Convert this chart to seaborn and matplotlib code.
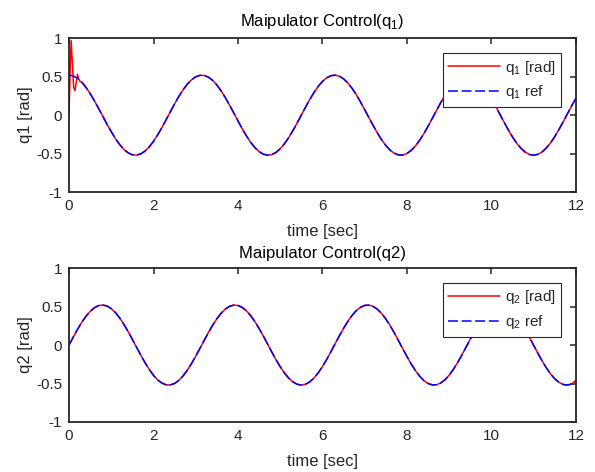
import numpy as np
import pandas as pd
import matplotlib
matplotlib.use("Agg")
from matplotlib import pyplot as plt
import seaborn as sns

# sample times [sec], every 0.1 s
time = [0.0, 0.1, 0.2, 0.3, 0.4, 0.5, 0.6, 0.7, 0.8, 0.9,
        1.0, 1.1, 1.2, 1.3, 1.4, 1.5, 1.6, 1.7, 1.8, 1.9,
        2.0, 2.1, 2.2, 2.3, 2.4, 2.5, 2.6, 2.7, 2.8, 2.9,
        3.0, 3.1, 3.2, 3.3, 3.4, 3.5, 3.6, 3.7, 3.8, 3.9,
        4.0, 4.1, 4.2, 4.3, 4.4, 4.5, 4.6, 4.7, 4.8, 4.9,
        5.0, 5.1, 5.2, 5.3, 5.4, 5.5, 5.6, 5.7, 5.8, 5.9,
        6.0, 6.1, 6.2, 6.3, 6.4, 6.5, 6.6, 6.7, 6.8, 6.9,
        7.0, 7.1, 7.2, 7.3, 7.4, 7.5, 7.6, 7.7, 7.8, 7.9,
        8.0, 8.1, 8.2, 8.3, 8.4, 8.5, 8.6, 8.7, 8.8, 8.9,
        9.0, 9.1, 9.2, 9.3, 9.4, 9.5, 9.6, 9.7, 9.8, 9.9,
        10.0, 10.1, 10.2, 10.3, 10.4, 10.5, 10.6, 10.7, 10.8, 10.9,
        11.0, 11.1, 11.2, 11.3, 11.4, 11.5, 11.6, 11.7, 11.8, 11.9,
        12.0]

# joint 1 reference [rad]
q1_ref = [0.520, 0.510, 0.479, 0.429, 0.362, 0.281, 0.188, 0.088, -0.015, -0.118,
          -0.216, -0.306, -0.383, -0.445, -0.490, -0.515, -0.519, -0.503, -0.466, -0.411,
          -0.340, -0.255, -0.160, -0.058, 0.046, 0.148, 0.244, 0.330, 0.403, 0.460,
          0.499, 0.518, 0.516, 0.494, 0.452, 0.392, 0.316, 0.228, 0.131, 0.028,
          -0.076, -0.177, -0.270, -0.353, -0.422, -0.474, -0.507, -0.520, -0.512, -0.484,
          -0.436, -0.371, -0.292, -0.201, -0.101, 0.002, 0.106, 0.205, 0.296, 0.375,
          0.439, 0.486, 0.513, 0.520, 0.506, 0.472, 0.419, 0.349, 0.266, 0.172,
          0.071, -0.033, -0.135, -0.232, -0.320, -0.395, -0.454, -0.495, -0.517, -0.518,
          -0.498, -0.458, -0.400, -0.326, -0.240, -0.143, -0.041, 0.063, 0.164, 0.259,
          0.343, 0.414, 0.468, 0.504, 0.519, 0.514, 0.488, 0.443, 0.380, 0.302,
          0.212, 0.113, 0.011, -0.093, -0.193, -0.285, -0.366, -0.432, -0.481, -0.511,
          -0.520, -0.509, -0.477, -0.426, -0.359, -0.277, -0.184, -0.084, 0.020, 0.123,
          0.221]
# the reference signal starts from zero at t = 0
q1_ref_start_t = [0.0]
q1_ref_start_v = [0.0]

# joint 1 response: start-up transient, then it tracks the reference (from t = 0.4)
q1_start_t = [0.0, 0.02, 0.05, 0.08, 0.11, 0.14, 0.17, 0.20, 0.23, 0.26, 0.30, 0.35]
q1_start_v = [0.0, 0.45, 0.97, 0.66, 0.36, 0.32, 0.42, 0.53, 0.47, 0.44, 0.43, 0.40]

# joint 2 reference [rad]
q2_ref = [0.000, 0.103, 0.203, 0.294, 0.373, 0.437, 0.485, 0.513, 0.520, 0.507,
          0.473, 0.421, 0.351, 0.268, 0.174, 0.073, -0.030, -0.133, -0.230, -0.318,
          -0.394, -0.454, -0.495, -0.517, -0.518, -0.499, -0.459, -0.401, -0.328, -0.241,
          -0.145, -0.043, 0.061, 0.162, 0.257, 0.342, 0.413, 0.468, 0.503, 0.519,
          0.514, 0.489, 0.444, 0.382, 0.304, 0.214, 0.116, 0.013, -0.091, -0.191,
          -0.283, -0.364, -0.430, -0.479, -0.510, -0.520, -0.509, -0.478, -0.428, -0.361,
          -0.279, -0.186, -0.086, 0.018, 0.120, 0.218, 0.308, 0.385, 0.447, 0.491,
          0.515, 0.519, 0.502, 0.465, 0.410, 0.338, 0.253, 0.158, 0.056, -0.048,
          -0.150, -0.246, -0.332, -0.405, -0.462, -0.500, -0.518, -0.516, -0.493, -0.451,
          -0.391, -0.315, -0.226, -0.129, -0.026, 0.078, 0.179, 0.272, 0.355, 0.423,
          0.475, 0.508, 0.520, 0.512, 0.483, 0.435, 0.370, 0.290, 0.198, 0.099,
          -0.005, -0.108, -0.207, -0.298, -0.376, -0.440, -0.486, -0.513, -0.520, -0.506,
          -0.471]
# joint 2 response (tracks the reference, small deviation at the very end)
q2_act = q2_ref[:-1] + [-0.460]

RED, BLUE, AXC = "#ff0000", "#0000ff", "#262626"

sns.set_theme(style="white")
plt.rcParams["font.family"] = ["Liberation Sans", "DejaVu Sans"]
plt.rcParams["mathtext.fontset"] = "custom"
plt.rcParams["mathtext.rm"] = "Liberation Sans"

fig = plt.figure(figsize=(5.95, 4.72), dpi=100)
ax1 = fig.add_axes([0.116, 0.593, 0.852, 0.326])
ax2 = fig.add_axes([0.116, 0.106, 0.852, 0.326])

# top panel
t1_act = q1_start_t + time[4:]
v1_act = q1_start_v + q1_ref[4:]
t1_ref = q1_ref_start_t + time
v1_ref = q1_ref_start_v + q1_ref
sns.lineplot(x=t1_act, y=v1_act, ax=ax1, color=RED, lw=1.1, sort=False,
             estimator=None, label=r"q$_\mathregular{1}$ [rad]")
sns.lineplot(x=t1_ref, y=v1_ref, ax=ax1, color=BLUE, lw=1.1, sort=False,
             estimator=None, linestyle=(0, (6.5, 2.4)), label=r"q$_\mathregular{1}$ ref")

# bottom panel
sns.lineplot(x=time, y=q2_act, ax=ax2, color=RED, lw=1.1, sort=False,
             estimator=None, label=r"q$_\mathregular{2}$ [rad]")
sns.lineplot(x=time, y=q2_ref, ax=ax2, color=BLUE, lw=1.1, sort=False,
             estimator=None, linestyle=(0, (6.5, 2.4)), label=r"q$_\mathregular{2}$ ref")

titles = [r"Maipulator Control(q$_\mathregular{1}$)", "Maipulator Control(q2)"]
ylabels = ["q1 [rad]", "q2 [rad]"]
title_pads = [9, 7]
for ax, ttl, yl, tp in zip([ax1, ax2], titles, ylabels, title_pads):
    ax.set_xlim(0, 12)
    ax.set_ylim(-1, 1)
    ax.set_xticks(range(0, 13, 2))
    ax.set_yticks([-1, -0.5, 0, 0.5, 1])
    ax.set_yticklabels(["-1", "-0.5", "0", "0.5", "1"])
    ax.tick_params(direction="in", length=4.5, width=1.1, top=True, right=True,
                   labelsize=11, colors=AXC, pad=5)
    for sp in ax.spines.values():
        sp.set_color(AXC)
        sp.set_linewidth(1.3)
    ax.set_title(ttl, fontsize=12, pad=tp, color="black")
    ax.set_xlabel("time [sec]", fontsize=12, labelpad=8, color=AXC)
    ax.set_ylabel(yl, fontsize=12, labelpad=2, color=AXC)
    leg = ax.legend(loc="upper right", bbox_to_anchor=(0.970, 0.903), borderaxespad=0,
                    fontsize=11, frameon=True, fancybox=False, framealpha=1,
                    edgecolor=AXC, handlelength=3.4, handletextpad=0.3,
                    borderpad=0.35, labelspacing=0.45)
    leg.get_frame().set_linewidth(0.8)

fig.savefig("out.png", dpi=100)
